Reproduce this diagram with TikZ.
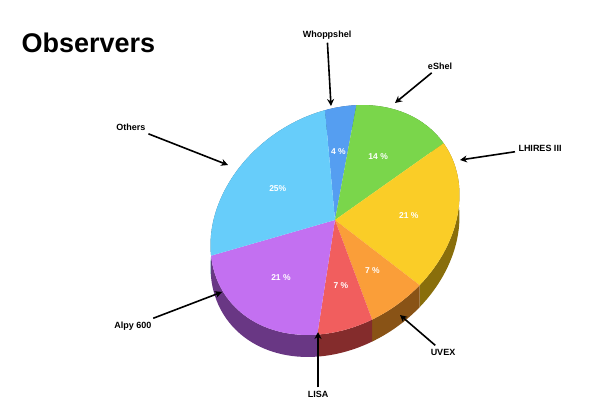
\documentclass[tikz,border=0pt]{standalone}
\usepackage{fontspec}
\setmainfont{Liberation Sans}
\usetikzlibrary{arrows.meta}
\definecolor{cWh}{RGB}{70,150,240}
\definecolor{cEs}{RGB}{110,210,60}
\definecolor{cLh}{RGB}{250,200,20}
\definecolor{cUv}{RGB}{250,150,40}
\definecolor{cLi}{RGB}{240,80,80}
\definecolor{cAl}{RGB}{190,100,240}
\definecolor{cOt}{RGB}{90,200,250}
\tikzset{lab/.style={font=\bfseries\fontsize{9}{10}\selectfont},
 pct/.style={font=\bfseries\fontsize{8.5}{10}\selectfont,text=white},
 arr/.style={-{Stealth[length=7pt,width=7pt]},line width=1.6pt}}
\begin{document}
\begin{tikzpicture}[x=1pt,y=1pt]
\useasboundingbox (0,0) rectangle (600,-417);
\node[anchor=west,font=\bfseries\fontsize{27}{30}\selectfont] (title) at (18,-43) {Observers};
\def\rx{133}\def\ry{105}
\begin{scope}[shift={(335,-220)},rotate=35]
% sides
\foreach \a/\b/\c in {65.7/51.2/cWh,51.2/0.3/cEs,0.3/-76.1/cLh,-76.1/-101.6/cUv,-101.6/-127.1/cLi,-127.1/-203.5/cAl,-203.5/-294.3/cOt}{
 \fill[\c!55!black] ({\rx*cos(\a)},{\ry*sin(\a)}) arc[start angle=\a,end angle=\b,x radius=\rx,y radius=\ry]
   -- ({\rx*cos(\b)+22*cos(-125)},{\ry*sin(\b)+22*sin(-125)}) arc[start angle=\b,end angle=\a,x radius=\rx,y radius=\ry] -- cycle;
}
% tops
\foreach \a/\b/\c/\t in {65.7/51.2/cWh/4 \%,51.2/0.3/cEs/14 \%,0.3/-76.1/cLh/21 \%,-76.1/-101.6/cUv/7 \%,-101.6/-127.1/cLi/7 \%,-127.1/-203.5/cAl/21 \%,-203.5/-294.3/cOt/25\%}{
 \fill[\c!92!white] (0,0) -- ({\rx*cos(\a)},{\ry*sin(\a)}) arc[start angle=\a,end angle=\b,x radius=\rx,y radius=\ry] -- cycle;
 \pgfmathsetmacro\m{(\a+\b)/2}
 \node[pct] at ({0.6*\rx*cos(\m)},{0.6*\ry*sin(\m)}) {\t};
}
\end{scope}
\node[lab] (wh) at (327,-35) {Whoppshel};
\node[lab] (es) at (440,-66) {eShel};
\node[lab] (lh) at (540,-148) {LHIRES III};
\node[lab] (ot) at (131,-127) {Others};
\node[lab] (al) at (133,-326) {Alpy 600};
\node[lab] (li) at (318,-394) {LISA};
\node[lab] (uv) at (443,-352) {UVEX};
\coordinate (whT) at (331,-106);
\coordinate (esT) at (395,-103);
\coordinate (lhT) at (460,-160);
\coordinate (otT) at (228,-165);
\coordinate (alT) at (222,-292);
\coordinate (liT) at (318,-332);
\coordinate (uvT) at (400,-315);
\draw[arr] (wh) -- (whT);
\draw[arr] (es) -- (esT);
\draw[arr] (lh) -- (lhT);
\draw[arr] (ot) -- (otT);
\draw[arr] (al) -- (alT);
\draw[arr] (li) -- (liT);
\draw[arr] (uv) -- (uvT);
\end{tikzpicture}
\end{document}
